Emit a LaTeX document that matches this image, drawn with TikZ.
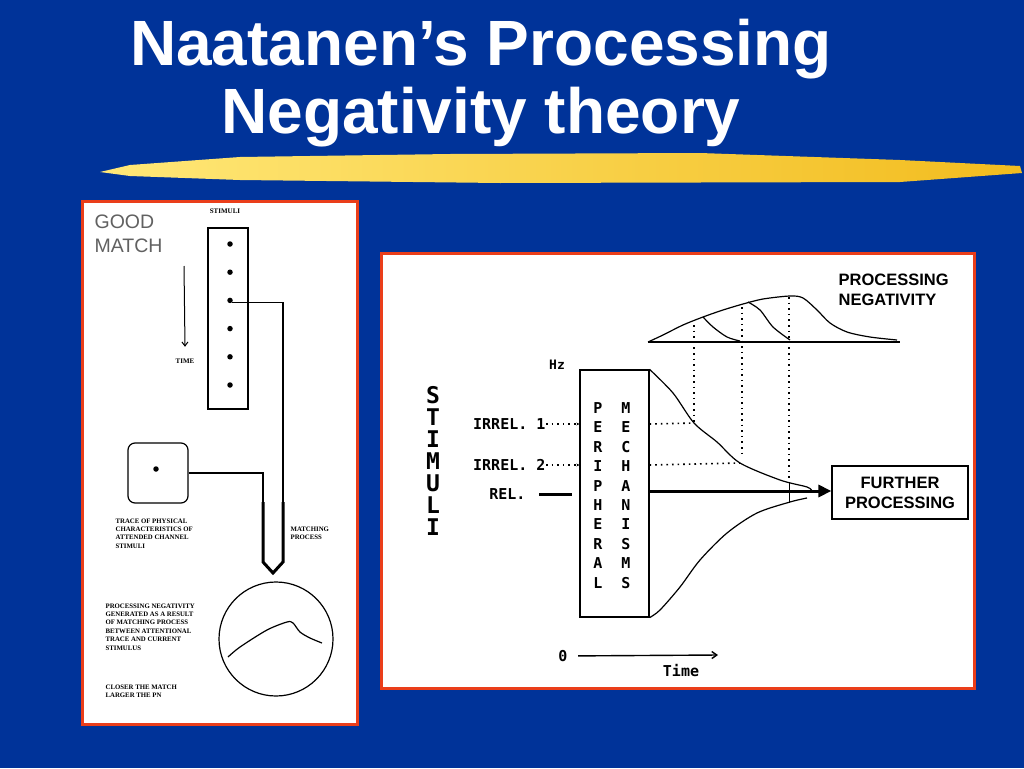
\documentclass[tikz,border=0pt]{standalone}
\usepackage{fontspec}
\setmainfont{Liberation Serif}
\setsansfont{Liberation Sans}
\setmonofont{DejaVu Sans Mono}
\usepackage{xcolor}
\usepackage{tikz}
\usetikzlibrary{arrows.meta}
\usetikzlibrary{calc}
\usetikzlibrary{positioning}

\definecolor{slide}{RGB}{0,51,153}
\definecolor{frame}{RGB}{234,62,26}
\definecolor{brushA}{RGB}{255,232,120}
\definecolor{brushB}{RGB}{242,188,30}
\newcommand{\fsz}[2]{\fontsize{#1}{#2}\selectfont}

\begin{document}
\begin{tikzpicture}[x=1pt,y=-1pt,line width=1.2pt]
	\tikzstyle{panel}=[draw=frame, line width=3pt, fill=white]
	\tikzstyle{dot}=[circle, fill, inner sep=0pt, minimum size=5.5pt]
	\tikzstyle{tiny}=[font=\bfseries\fsz{6.8}{8.4}, align=left, anchor=north west, inner sep=0pt]
	\tikzstyle{mono}=[font=\ttfamily\bfseries\fsz{15}{15}, inner sep=0pt]
	\tikzstyle{lab}=[font=\sffamily\bfseries\fsz{16.5}{20}, align=left, inner sep=0pt]
	\tikzstyle{dots}=[line width=1.6pt, dash pattern=on 1.6pt off 4pt]

	% slide
	\fill[slide] (0,0) rectangle (1024,768);
	\useasboundingbox (0,0) rectangle (1024,768);
	\node[font=\sffamily\bfseries\fsz{64}{68}, text=white, anchor=base, inner sep=0pt] (title1) at (481,65) {Naatanen’s Processing};
	\node[font=\sffamily\bfseries\fsz{64}{68}, text=white, anchor=base, inner sep=0pt] (title2) at (481,133) {Negativity theory};
	\shade[left color=brushA, right color=brushB] (100,172) -- (130,165) -- (240,157) -- (450,154) -- (700,153)
		-- (900,160) -- (1020,166) -- (1022,173) -- (900,182) -- (500,183) -- (240,180) -- (130,176) -- cycle;

	% left panel: good match
	\draw[panel] (82,201) rectangle (357,724);
	\node[font=\sffamily\fsz{19.5}{24}, text=black!62, align=left, anchor=north west, inner sep=0pt] (good) at (94,214) {GOOD\\MATCH};
	\node[draw, minimum width=40, minimum height=181, inner sep=0pt] (stim) at (228,318.5) {};
	\node[font=\bfseries\fsz{7}{8}, above=10pt of stim, xshift=-3pt] (stimlab) {STIMULI};
	\foreach \i in {1,...,6}{
		\node[dot] (d\i) at (230,{244+(\i-1)*28.2}) {};
	}
	\node[font=\bfseries\fsz{7}{8}] (time) at (185,361) {TIME};
	\coordinate (t0) at (184,266);
	\draw[line width=1pt, -{Straight Barb[length=4pt,width=6pt]}] (t0) -- ([yshift=8pt]time.north);

	\node[draw, rounded corners=7pt, minimum size=60, inner sep=0pt] (trace) at (158,473) {};
	\node[dot] (td) at (156,469) {};
	\coordinate (tubeL) at (263,502);
	\coordinate (tubeR) at (283,502);
	\coordinate (tip) at (273,573);
	\draw (d3.south east) -| (tubeR);
	\draw (trace.east) -| (tubeL);
	\draw[line width=3pt] (tubeL) -- (263,562) -- (tip) -- (283,562) -- (tubeR);
	\node[tiny] (tracetxt) at (115,518) {TRACE OF PHYSICAL\\CHARACTERISTICS OF\\ATTENDED CHANNEL\\STIMULI};
	\node[tiny] (matchtxt) at (290,526) {MATCHING\\PROCESS};

	\node[draw, circle, minimum size=114, inner sep=0pt] (pn) at (276,639) {};
	\draw plot[smooth] coordinates {(228,657) (240,647) (267,630) (287,622) (293,623) (300,632) (310,638) (322,643)};
	\node[tiny] (pntxt) at (105,603) {PROCESSING NEGATIVITY\\GENERATED AS A RESULT\\OF MATCHING PROCESS\\BETWEEN ATTENTIONAL\\TRACE AND CURRENT\\STIMULUS};
	\node[tiny] (closer) at (105,684) {CLOSER THE MATCH\\LARGER THE PN};

	% right panel: peripheral mechanisms
	\draw[panel] (381,253) rectangle (974,688);
	\node[lab, anchor=north west] (pnlab) at (838,273) {PROCESSING\\NEGATIVITY};
	\draw[line width=2.5pt] (648,342) -- (900,342);
	\draw plot[smooth] coordinates {(648,342) (663,335) (683,325) (703,317) (723,310) (743,304) (763,299) (790,296)
		(803,298) (817,310) (830,323) (847,332) (870,337) (897,340)};
	\draw plot[smooth] coordinates {(703,317) (713,327) (727,337) (740,341)};
	\draw plot[smooth] coordinates {(748,302) (760,310) (773,327) (790,340)};

	\node[draw, minimum width=69, minimum height=247, inner sep=0pt] (per) at (614.5,493.5) {};
	\foreach \a/\b [count=\i] in {P/M,E/E,R/C,I/H,P/A,H/N,E/I,R/S,A/M,L/S}{
		\node[mono, font=\ttfamily\bfseries\fsz{15}{15}] at (598,{408+(\i-1)*19.4}) {\a};
		\node[mono, font=\ttfamily\bfseries\fsz{15}{15}] at (626,{408+(\i-1)*19.4}) {\b};
	}
	\foreach \l [count=\i] in {S,T,I,M,U,L,I}{
		\node[mono, font=\ttfamily\bfseries\fsz{23}{23}] at (433,{395+(\i-1)*22}) {\l};
	}
	\node[mono, font=\ttfamily\bfseries\fsz{13}{13}] (hz) at (557,365) {Hz};
	\node[mono, anchor=east] (ir1) at (546,424) {IRREL. 1};
	\node[mono, anchor=east] (ir2) at (546,465) {IRREL. 2};
	\node[mono, anchor=east] (rel) at (526,494) {REL.};
	\draw[dots, -{Stealth[length=3pt,width=3pt]}] (ir1.east) -- (ir1.east -| per.west);
	\draw[dots, -{Stealth[length=3pt,width=3pt]}] (ir2.east) -- (ir2.east -| per.west);
	\draw[line width=3pt, shorten <=13pt, shorten >=7pt] (rel.east) -- (rel.east -| per.west);

	\coordinate (c1) at (694,423);
	\coordinate (c2) at (740,463);
	\draw plot[smooth] coordinates {(per.north east) (673,393) (c1) (717,442) (c2) (780,480) (807,487) (812,491)};
	\draw plot[smooth] coordinates {(per.south east) (660,610) (680,587) (700,560) (727,533) (757,513) (790,502) (807,498)};
	\draw[dots] (ir1.east -| per.east) -- (c1);
	\draw[dots] (ir2.east -| per.east) -- (c2);
	\draw[dots] (694,325) -- (c1);
	\draw[dots] (742,307) -- (742,455);
	\draw[dots] (789,297) -- (789,482);
	\draw[line width=0.8pt] (789,482) -- (789,503);

	\node[draw, minimum width=136, minimum height=53, lab, align=center] (fp) at (900,492.5) {FURTHER\\PROCESSING};
	\draw[line width=3pt, -{Triangle[length=13pt,width=12pt]}] (per.east |- 0,491) -- (fp.west |- 0,491);

	\node[mono] (zero) at (563,656) {0};
	\coordinate (tend) at (718,655);
	\draw[line width=1.4pt, shorten <=10pt, -{Straight Barb[length=5pt,width=7pt]}] (zero) -- (tend);
	\node[mono] (timelab) at (681,670) {Time};
\end{tikzpicture}
\end{document}
